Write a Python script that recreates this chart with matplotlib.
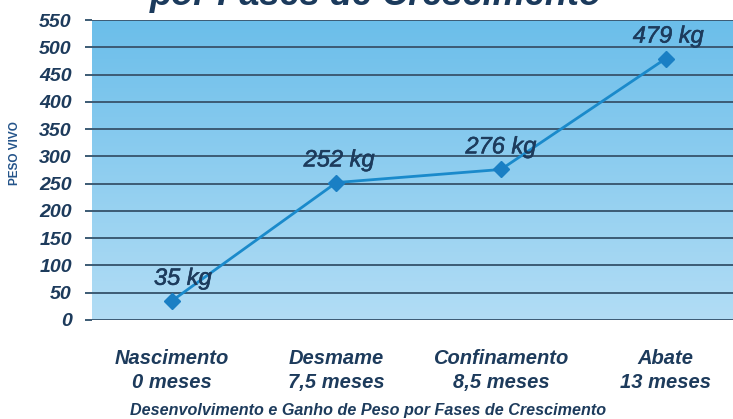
import matplotlib
matplotlib.use("Agg")
import matplotlib.pyplot as plt
import matplotlib.patheffects as pe
import numpy as np
from matplotlib.colors import LinearSegmentedColormap

categories = ["Nascimento\n0 meses", "Desmame\n7,5 meses", "Confinamento\n8,5 meses", "Abate\n13 meses"]
weights = [35, 252, 276, 479]
value_labels = ["35 kg", "252 kg", "276 kg", "479 kg"]
yticks = list(range(0, 551, 50))

navy = "#1d3b5c"
FONT = "Liberation Sans"

fig = plt.figure(figsize=(7.33, 4.19), dpi=100)
ax = fig.add_axes([92/733, 1-320/419, 1-92/733, 300/419])

# gradient background
cmap = LinearSegmentedColormap.from_list("bg", ["#b2ddf5", "#6bbeea"])
grad = np.linspace(0, 1, 256).reshape(-1, 1)
ax.imshow(grad, aspect="auto", cmap=cmap, origin="lower",
          extent=[0, 1, 0, 1], transform=ax.transAxes, zorder=0)

x = np.arange(len(categories))
ax.set_xlim(-0.485, 3.41)
ax.set_ylim(0, 550)

ax.set_yticks(yticks)
ax.yaxis.grid(True, color="#3c5b74", linewidth=1.4, zorder=1)
ax.set_axisbelow(True)
for s in ax.spines.values():
    s.set_visible(False)
ax.tick_params(axis="y", length=5, width=1.4, color="#3c5b74", pad=9.5)
ax.tick_params(axis="x", length=0, pad=21)
ax.set_yticklabels([str(v) for v in yticks], fontfamily=FONT, fontsize=14,
                   fontweight="bold", fontstyle="italic", color=navy)
ax.set_xticks(x)
ax.set_xticklabels(categories, fontfamily=FONT, fontsize=14.5,
                   fontweight="bold", fontstyle="italic", color=navy,
                   linespacing=1.3)

ax.plot(x, weights, color="#1a8acb", linewidth=2, marker="D", markersize=8.5,
        markerfacecolor="#1a7fc4", markeredgecolor="#1a7fc4", zorder=3)

label_dx = [8, 2, 0, 2]
for xi, w, lab, dx in zip(x, weights, value_labels, label_dx):
    ax.annotate(lab, (xi, w), xytext=(dx, 8), textcoords="offset points",
                ha="center", va="bottom", fontfamily=FONT, fontsize=17,
                fontstyle="italic", color=navy, zorder=4,
                path_effects=[pe.withStroke(linewidth=0.4, foreground=navy)])

fig.text(15/733, 1-153/419, "PESO VIVO", rotation=90, ha="center", va="center",
         fontfamily=FONT, fontsize=8.5, fontweight="bold", color="#24548a")

fig.text(368/733, 1-410/419, "Desenvolvimento e Ganho de Peso por Fases de Crescimento",
         ha="center", va="center", fontfamily=FONT, fontsize=11.6,
         fontweight="bold", fontstyle="italic", color=navy)

fig.text(376/733, 1-5/419, "por Fases de Crescimento", ha="center", va="baseline",
         fontfamily=FONT, fontsize=26, fontweight="bold", fontstyle="italic",
         color="#1b3a5c")

fig.savefig("out.png", dpi=100)
